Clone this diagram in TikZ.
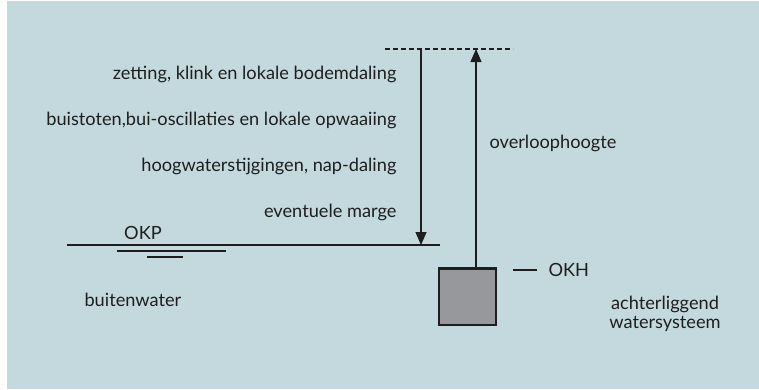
\documentclass[tikz,border=0pt]{standalone}
\usepackage{fontspec}
\setmainfont{Lato}
\usetikzlibrary{arrows.meta}
\definecolor{waterbg}{RGB}{196,217,222}
\definecolor{kastgrijs}{RGB}{151,152,155}
\definecolor{inkt}{RGB}{30,30,30}

\begin{document}
\begin{tikzpicture}[x=1pt, y=-1pt, line width=1.1pt, draw=inkt,
    txt/.style={inner sep=0pt, text=inkt, font=\fontsize{18.2}{19}\selectfont},
    pijl/.style={-{Triangle[length=13pt,width=11pt]}}]
  \fill[white] (0,0) rectangle (759,389);
  \fill[waterbg] (7,1) rectangle (759,389);
  \useasboundingbox (0,0) rectangle (759,389);
  \coordinate (dashL) at (385,49);
  \coordinate (dashR) at (513,49);
  \coordinate (topA) at (421,49);
  \coordinate (topB) at (476,49);
  \coordinate (okpL) at (67,245);
  \coordinate (okpR) at (440,245);
  \coordinate (okpA) at (421,245);
  \coordinate (golf1L) at (117,251);
  \coordinate (golf1R) at (226,251);
  \coordinate (golf2L) at (147,257);
  \coordinate (golf2R) at (183,257);
  \coordinate (okhL) at (513,270);
  \coordinate (okhR) at (537,270);
  \node[txt, anchor=east] (zetting) at (397,74) {zetting, klink en lokale bodemdaling};
  \node[txt, anchor=east] (buistoten) at (397,120) {buistoten,bui-oscillaties en lokale opwaaiing};
  \node[txt, anchor=east] (hoogwater) at (397,166) {hoogwaterstijgingen, nap-daling};
  \node[txt, anchor=east] (marge) at (397,212) {eventuele marge};
  \node[txt] (okp) at (143,233) {OKP};
  \node[txt, anchor=west] (overloop) at (489,143) {overloophoogte};
  \node[txt, anchor=west] (okh) at (548,270) {OKH};
  \node[txt, anchor=west] (buiten) at (84,300) {buitenwater};
  \node[txt, align=center] (achter) at (665,314) {achterliggend\\watersysteem};
  \node[draw=inkt, fill=kastgrijs, line width=2pt, minimum width=57pt, minimum height=56pt,
    inner sep=0pt] (kast) at (467.5,297) {};
  \draw[line width=3pt] (kast.north west) -- (kast.north east);
  \draw[dash pattern=on 5pt off 3pt] (dashL) -- (dashR);
  \draw (okpL) -- (okpR);
  \draw (golf1L) -- (golf1R);
  \draw (golf2L) -- (golf2R);
  \draw (okhL) -- (okhR);
  \draw[pijl] (topA) -- (okpA);
  \draw[pijl] (kast.north -| topB) -- (topB);
\end{tikzpicture}
\end{document}
